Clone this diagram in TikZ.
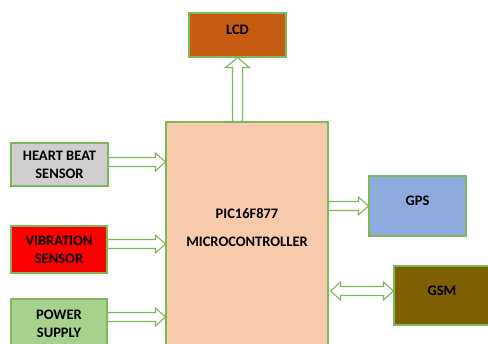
\documentclass[tikz,border=0pt]{standalone}
\usepackage{fontspec}
\setmainfont{Carlito}
\usetikzlibrary{calc}
\definecolor{grn}{HTML}{7DB85A}
\definecolor{lcdc}{HTML}{C55A11}
\definecolor{mcuc}{HTML}{F8CBAD}
\definecolor{hbc}{HTML}{D0CECE}
\definecolor{vibc}{HTML}{FF0000}
\definecolor{pwc}{HTML}{A9D18E}
\definecolor{gpsc}{HTML}{8FAADC}
\definecolor{gsmc}{HTML}{7F6000}
\tikzset{
  blk/.style={draw=grn, line width=1.1pt, rectangle, inner sep=0pt, align=center,
    font=\fontsize{14.5}{18}\selectfont\bfseries},
  up/.style={text depth=10pt},
  arr/.style={draw=grn, line width=1.1pt, fill=white, line join=miter},
  txt/.style={font=\fontsize{14.5}{18}\selectfont\bfseries, align=center}
}
\newcommand\rarrow[2]{%
  \draw[arr] let \p1=(#1), \p2=(#2) in
    (\x1,\y1+4.5pt) -- (\x2-10pt,\y1+4.5pt) -- (\x2-10pt,\y1+9pt) -- (\x2,\y1)
    -- (\x2-10pt,\y1-9pt) -- (\x2-10pt,\y1-4.5pt) -- (\x1,\y1-4.5pt) -- cycle;}
\newcommand\uarrow[2]{%
  \draw[arr] let \p1=(#1), \p2=(#2) in
    (\x1-5pt,\y1) -- (\x1-5pt,\y2-10pt) -- (\x1-12pt,\y2-10pt) -- (\x1,\y2)
    -- (\x1+12pt,\y2-10pt) -- (\x1+5pt,\y2-10pt) -- (\x1+5pt,\y1) -- cycle;}
\newcommand\lrarrow[2]{%
  \draw[arr] let \p1=(#1), \p2=(#2) in
    (\x1,\y1) -- (\x1+10pt,\y1+9pt) -- (\x1+10pt,\y1+4.5pt) -- (\x2-10pt,\y1+4.5pt)
    -- (\x2-10pt,\y1+9pt) -- (\x2,\y1) -- (\x2-10pt,\y1-9pt) -- (\x2-10pt,\y1-4.5pt)
    -- (\x1+10pt,\y1-4.5pt) -- (\x1+10pt,\y1-9pt) -- cycle;}
\begin{document}
\begin{tikzpicture}[x=1pt,y=-1pt]
\useasboundingbox (0,0) rectangle (488,344);
\clip (0,0) rectangle (488,344);
\node[blk, fill=mcuc, minimum width=162pt, minimum height=240pt] (mcu) at (247,242) {};
\node[txt] (mcutext) at (247,228) {PIC16F877\\[10pt]MICROCONTROLLER};
\node[blk, up, fill=lcdc, minimum width=97pt, minimum height=44pt] (lcd) at (237.5,35) {LCD};
\node[blk, fill=hbc, minimum width=97pt, minimum height=43pt] (hb) at (59.5,164.5) {HEART BEAT\\SENSOR};
\node[blk, fill=vibc, minimum width=96pt, minimum height=47pt] (vib) at (59,249.5) {VIBRATION\\SENSOR};
\node[blk, fill=pwc, minimum width=96pt, minimum height=50pt] (pw) at (59,324) {POWER\\SUPPLY};
\node[blk, up, fill=gpsc, minimum width=97pt, minimum height=60pt] (gps) at (417.5,206) {GPS};
\node[blk, up, fill=gsmc, minimum width=96pt, minimum height=59pt] (gsm) at (442,295.5) {GSM};
\coordinate (hbend) at (mcu.west |- 0,162);
\coordinate (hbstart) at (hb.east |- 0,162);
\rarrow{hbstart}{hbend}
\coordinate (vibstart) at (vib.east |- 0,244);
\coordinate (vibend) at (mcu.west |- 0,244);
\rarrow{vibstart}{vibend}
\coordinate (pwstart) at (pw.east |- 0,317);
\coordinate (pwend) at (mcu.west |- 0,317);
\rarrow{pwstart}{pwend}
\coordinate (gpsstart) at (mcu.east |- 0,206);
\coordinate (gpsend) at (gps.west |- 0,206);
\rarrow{gpsstart}{gpsend}
\coordinate (gsmstart) at ($(mcu.east |- 0,291)+(2,0)$);
\coordinate (gsmend) at (gsm.west |- 0,291);
\lrarrow{gsmstart}{gsmend}
\coordinate (lcdstart) at (lcd.south |- mcu.north);
\uarrow{lcdstart}{lcd.south}
\end{tikzpicture}
\end{document}
